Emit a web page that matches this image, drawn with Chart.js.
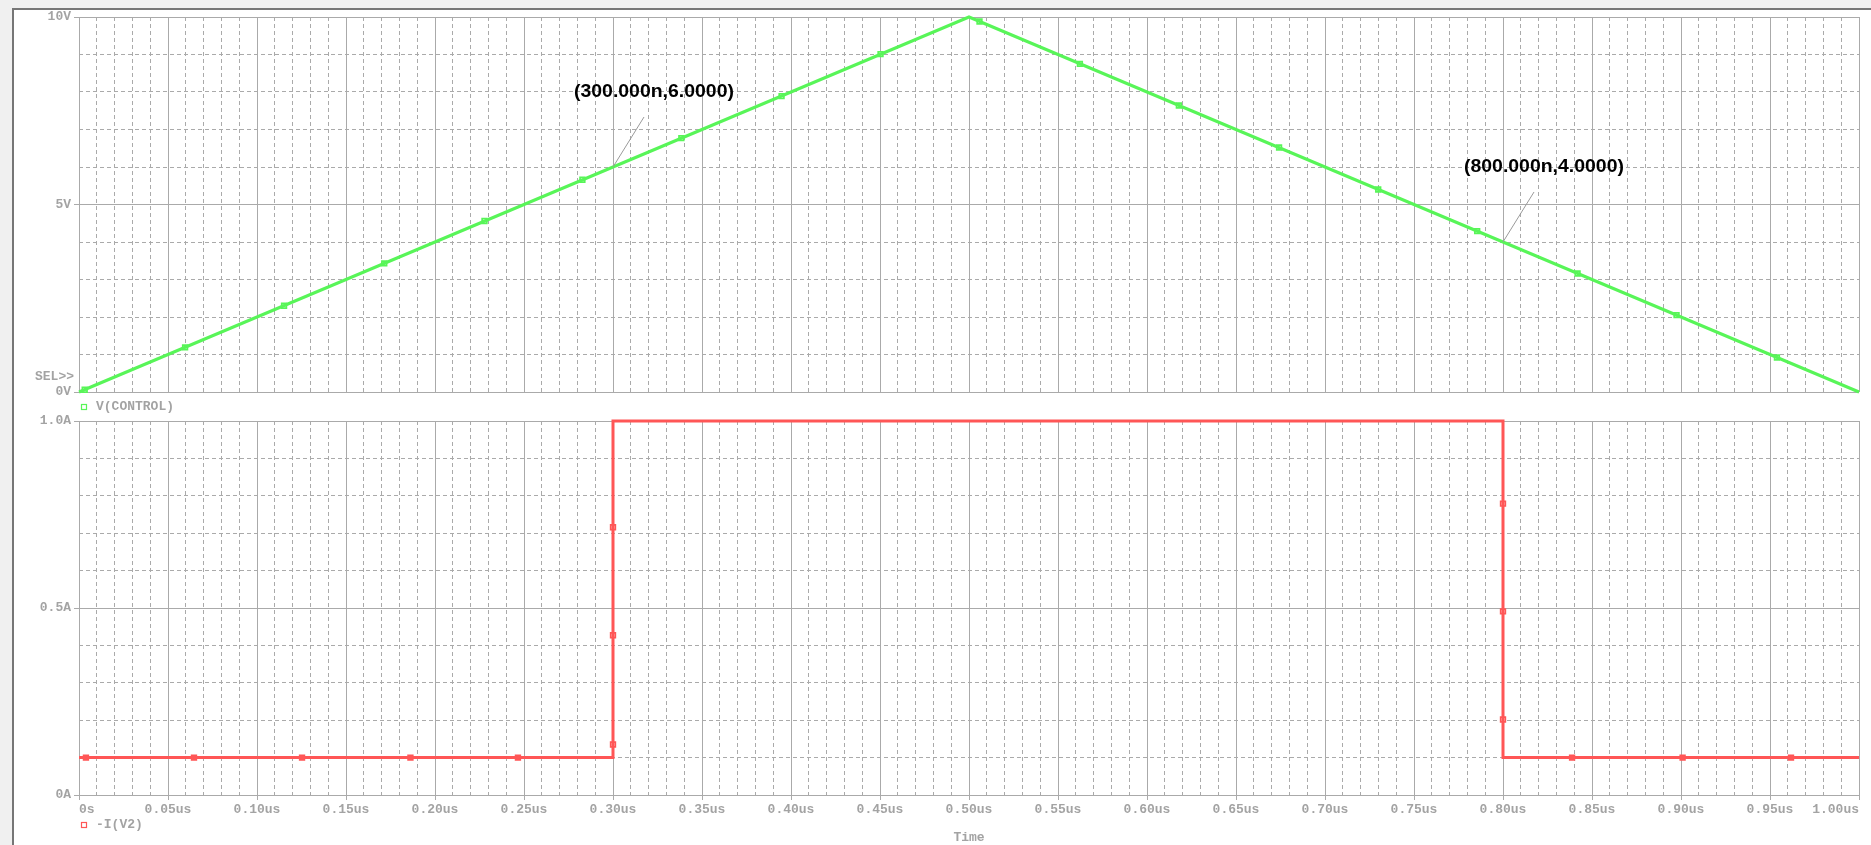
<!DOCTYPE html>
<html><head><meta charset="utf-8">
<script src="https://cdn.jsdelivr.net/npm/chart.js@4.4.0/dist/chart.umd.min.js"></script>
<style>
html,body{margin:0;padding:0;background:#f0f0f0;width:1871px;height:845px;overflow:hidden;}
#panel{position:absolute;left:12px;top:8px;right:0;bottom:0;background:#fff;border-left:2px solid #767676;border-top:2px solid #767676;}
canvas{position:absolute;left:0;top:0;}
</style></head><body>
<div id="panel"></div>
<canvas id="topChart" width="1871" height="845"></canvas>
<canvas id="botChart" width="1871" height="845"></canvas>
<script>
// ---- data ----
const timeLabel = 'Time';
const vName = 'V(CONTROL)';
const iName = '-I(V2)';
const selLabel = 'SEL>>';
const vLineT = [0, 0.5, 1.0];
const vLineV = [0, 10, 0];
const vMarkT = [0.0032, 0.0596, 0.1152, 0.1715, 0.2278, 0.2828, 0.3384, 0.3947, 0.4503, 0.5059, 0.5623, 0.6179, 0.6742, 0.7299, 0.7855, 0.8419, 0.8975, 0.9539];
const vMarkV = [0.06, 1.19, 2.30, 3.43, 4.56, 5.66, 6.77, 7.89, 9.01, 9.88, 8.75, 7.64, 6.52, 5.40, 4.29, 3.16, 2.05, 0.92];
const iLineT = [0, 0.3, 0.3, 0.8, 0.8, 1.0];
const iLineA = [0.1, 0.1, 1.0, 1.0, 0.1, 0.1];
const iMarkT = [0.0039, 0.0646, 0.1253, 0.1862, 0.2466, 0.3, 0.3, 0.3, 0.8, 0.8, 0.8, 0.8388, 0.9009, 0.9618];
const iMarkA = [0.1, 0.1, 0.1, 0.1, 0.1, 0.135, 0.427, 0.716, 0.779, 0.491, 0.202, 0.1, 0.1, 0.1];
const xTickLabels = ['0s','0.05us','0.10us','0.15us','0.20us','0.25us','0.30us','0.35us','0.40us','0.45us','0.50us','0.55us','0.60us','0.65us','0.70us','0.75us','0.80us','0.85us','0.90us','0.95us','1.00us'];
const vTickLabels = ['0V','5V','10V'];
const iTickLabels = ['0A','0.5A','1.0A'];
const cursorT = [0.3, 0.8];
const cursorV = [6, 4];
const cursorLabels = ['(300.000n,6.0000)', '(800.000n,4.0000)'];

// ---- styles ----
const GRID = '#aaaaaa';
const TXT = '#a3a3a3';
const GREEN = '#58f558';
const RED = '#ff5656';
const MONO_FAMILY = "'Liberation Mono', 'DejaVu Sans Mono', monospace";
const MONO = {family: MONO_FAMILY, size: 13, weight: 'bold'};
const MONO_CSS = "bold 13px " + MONO_FAMILY;
const pts = (xs, ys) => xs.map((x, i) => ({x: x, y: ys[i]}));
const isMajor = c => c.index % 5 === 0;
const DASH = [4, 3];

function xScale(showLabels) {
  return {
    type: 'linear', min: 0, max: 1,
    afterFit: s => { s.height = showLabels ? 50 : 0; },
    ticks: {
      stepSize: 0.01, autoSkip: false, maxRotation: 0, minRotation: 0,
      display: showLabels, align: 'inner', padding: 2, color: TXT, font: MONO,
      callback: (v, i) => (i % 5 === 0 ? xTickLabels[i / 5] : '')
    },
    grid: {
      color: GRID, lineWidth: 1, drawTicks: showLabels, tickLength: 5,
      tickColor: c => (isMajor(c) ? GRID : 'rgba(0,0,0,0)')
    },
    border: { display: false, dash: c => (isMajor(c) ? [] : DASH) },
    title: { display: showLabels, text: timeLabel, color: TXT, font: MONO, padding: {top: 0, bottom: -1} }
  };
}
function yScale(max, step, labels) {
  return {
    type: 'linear', min: 0, max: max,
    afterFit: s => { s.width = 79; },
    ticks: {
      stepSize: step, autoSkip: false, padding: 3, color: TXT, font: MONO,
      callback: (v, i) => (i % 5 === 0 ? labels[i / 5] : '')
    },
    grid: {
      color: GRID, lineWidth: 1, drawTicks: true, tickLength: 5,
      tickColor: c => (isMajor(c) ? GRID : 'rgba(0,0,0,0)')
    },
    border: { display: false, dash: c => (isMajor(c) ? [] : DASH) }
  };
}
function legendEntry(ctx, x, y, color, text) {
  ctx.save();
  ctx.strokeStyle = color; ctx.lineWidth = 1.2;
  ctx.strokeRect(x - 2.5, y - 2.5, 5, 5);
  ctx.font = MONO_CSS;
  ctx.fillStyle = TXT; ctx.textAlign = 'left'; ctx.textBaseline = 'middle';
  ctx.fillText(text, x + 12, y);
  ctx.restore();
}

const topDecor = {
  id: 'topDecor',
  afterDatasetsDraw(chart) {
    const ctx = chart.ctx, a = chart.chartArea, x = chart.scales.x, y = chart.scales.y;
    ctx.save();
    ctx.font = MONO_CSS; ctx.fillStyle = TXT;
    ctx.textAlign = 'right'; ctx.textBaseline = 'middle';
    ctx.fillText(selLabel, a.left - 5, a.bottom - 15);
    legendEntry(ctx, a.left + 5, a.bottom + 15, GREEN, chart.data.datasets[0].label);
    cursorT.forEach((t, i) => {
      const px = x.getPixelForValue(t), py = y.getPixelForValue(cursorV[i]);
      ctx.strokeStyle = '#9a9a9a'; ctx.lineWidth = 1;
      ctx.beginPath(); ctx.moveTo(px, py); ctx.lineTo(px + 31, py - 50); ctx.stroke();
      ctx.save();
      ctx.translate(px - 39, py - 70);
      ctx.scale(1.08, 1);
      ctx.font = "bold 18px 'Liberation Sans', Arial, sans-serif";
      ctx.fillStyle = '#000'; ctx.textAlign = 'left'; ctx.textBaseline = 'alphabetic';
      ctx.fillText(cursorLabels[i], 0, 0);
      ctx.restore();
    });
    ctx.restore();
  }
};
const botDecor = {
  id: 'botDecor',
  afterDatasetsDraw(chart) {
    const a = chart.chartArea;
    legendEntry(chart.ctx, a.left + 5, a.bottom + 30, RED, chart.data.datasets[0].label);
  }
};

const common = {
  responsive: false, animation: false, events: [],
  plugins: { legend: {display: false}, tooltip: {enabled: false} }
};
const markerStyle = { showLine: false, pointStyle: 'rect', pointRadius: 3.3, pointBorderWidth: 1.7, backgroundColor: '#ffffff', clip: false };

new Chart(document.getElementById('topChart'), {
  type: 'scatter',
  data: { datasets: [
    { label: vName, data: pts(vLineT, vLineV), showLine: true, borderColor: GREEN, borderWidth: 3, pointRadius: 0, tension: 0, clip: false },
    Object.assign({ label: vName + ' markers', data: pts(vMarkT, vMarkV), borderColor: GREEN }, markerStyle)
  ]},
  options: Object.assign({}, common, {
    layout: { padding: {left: 0, top: 17, right: 12, bottom: 453} },
    scales: { x: xScale(false), y: yScale(10, 1, vTickLabels) }
  }),
  plugins: [topDecor]
});

new Chart(document.getElementById('botChart'), {
  type: 'scatter',
  data: { datasets: [
    { label: iName, data: pts(iLineT, iLineA), showLine: true, borderColor: RED, borderWidth: 3, pointRadius: 0, tension: 0, clip: false },
    Object.assign({ label: iName + ' markers', data: pts(iMarkT, iMarkA), borderColor: RED }, markerStyle)
  ]},
  options: Object.assign({}, common, {
    layout: { padding: {left: 0, top: 421, right: 12, bottom: 0} },
    scales: { x: xScale(true), y: yScale(1, 0.1, iTickLabels) }
  }),
  plugins: [botDecor]
});
</script>
</body></html>
